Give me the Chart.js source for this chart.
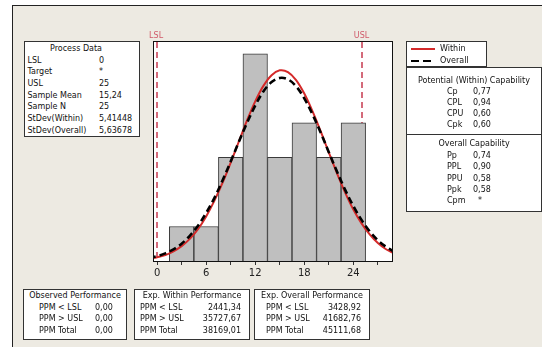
<!DOCTYPE html>
<html>
<head>
<meta charset="utf-8">
<script src="https://cdn.jsdelivr.net/npm/chart.js@4/dist/chart.umd.min.js"></script>
<style>
  html, body { margin:0; padding:0; background:#fff; }
  body { width:542px; height:347px; position:relative; overflow:hidden; font-family:"DejaVu Sans", sans-serif; font-size:8px; color:#111; }
  #frame { position:absolute; left:12px; top:5px; right:-2px; bottom:-2px; background:#EDEAE2; border-top:1px solid #222; border-left:1px solid #222; }
  #c { position:absolute; left:0; top:0; }
  .box { position:absolute; background:#fff; border:1px solid #333; box-sizing:border-box; }
  .t { position:absolute; line-height:10px; white-space:nowrap; }
  .ctr { transform:translateX(-50%); }
  .rgt { transform:translateX(-100%); }
  .hr { position:absolute; height:1px; background:#333; }
</style>
</head>
<body>
<div id="frame"></div>
<canvas id="c" width="542" height="347"></canvas>
<div id="overlay"></div>
<script>
// ---- data ----
const binCenters = [3, 6, 9, 12, 15, 18, 21, 24];
const binCounts  = [1, 1, 3, 6, 3, 4, 3, 4];
const curveX     = [-1, 0, 1, 2, 3, 4, 5, 6, 7, 8, 9, 10, 11, 12, 13, 14, 15, 16, 17, 18, 19, 20, 21, 22, 23, 24, 25, 26, 27, 28, 29];
const withinY    = [0.06, 0.11, 0.17, 0.28, 0.43, 0.64, 0.92, 1.29, 1.74, 2.26, 2.85, 3.46, 4.07, 4.62, 5.07, 5.38, 5.52, 5.47, 5.24, 4.85, 4.34, 3.76, 3.14, 2.54, 1.98, 1.49, 1.09, 0.77, 0.52, 0.34, 0.22];
const overallY   = [0.08, 0.14, 0.22, 0.34, 0.50, 0.73, 1.02, 1.39, 1.82, 2.33, 2.88, 3.45, 4.00, 4.50, 4.91, 5.18, 5.30, 5.26, 5.06, 4.71, 4.25, 3.72, 3.15, 2.59, 2.06, 1.59, 1.19, 0.86, 0.60, 0.41, 0.27];
const tickValues = [0, 3, 6, 9, 12, 15, 18, 21, 24, 27];
const tickLabels = ['0', '', '6', '', '12', '', '18', '', '24', ''];
const specLSL = 0;
const specUSL = 25;
const legendLabels = ['Within', 'Overall'];

const processLabels = ['LSL', 'Target', 'USL', 'Sample Mean', 'Sample N', 'StDev(Within)', 'StDev(Overall)'];
const processValues = ['0', '*', '25', '15,24', '25', '5,41448', '5,63678'];
const withinCapLabels = ['Cp', 'CPL', 'CPU', 'Cpk'];
const withinCapValues = ['0,77', '0,94', '0,60', '0,60'];
const overallCapLabels = ['Pp', 'PPL', 'PPU', 'Ppk', 'Cpm'];
const overallCapValues = ['0,74', '0,90', '0,58', '0,58', '*'];
const ppmLabels = ['PPM < LSL', 'PPM > USL', 'PPM Total'];
const observedPPM = ['0,00', '0,00', '0,00'];
const withinPPM = ['2441,34', '35727,67', '38169,01'];
const overallPPM = ['3428,92', '41682,76', '45111,68'];

// ---- HTML text panels ----
const ov = document.getElementById('overlay');
function box(l, t, w, h) { const d = document.createElement('div'); d.className = 'box'; Object.assign(d.style, {left:l+'px', top:t+'px', width:w+'px', height:h+'px'}); ov.appendChild(d); }
function txt(s, x, y, cls) { const d = document.createElement('div'); d.className = 't' + (cls ? ' ' + cls : ''); d.textContent = s; d.style.left = x + 'px'; d.style.top = (y - 5) + 'px'; ov.appendChild(d); return d; }
function hr(l, t, w) { const d = document.createElement('div'); d.className = 'hr'; Object.assign(d.style, {left:l+'px', top:t+'px', width:w+'px'}); ov.appendChild(d); }

// Process Data
box(24, 41, 116, 96);
txt('Process Data', 76, 49, 'ctr');
processLabels.forEach((s, i) => { const y = 60.7 + i * 11.67; txt(s, 27.5, y); txt(processValues[i], 99, y); });

// Legend
box(406, 41, 81, 26);
(function(){
  const l1 = document.createElement('div'); Object.assign(l1.style, {position:'absolute', left:'411px', top:'47.5px', width:'24px', height:'2px', background:'#D42A2A'}); ov.appendChild(l1);
  const l2 = document.createElement('div'); Object.assign(l2.style, {position:'absolute', left:'411px', top:'59.5px', width:'24px', height:'2.5px', background:'repeating-linear-gradient(to right,#000 0 8px,transparent 8px 12px)'}); ov.appendChild(l2);
})();
txt(legendLabels[0], 440, 48.5);
txt(legendLabels[1], 440, 60.5);

// Capability
box(406, 67, 136, 145);
txt('Potential (Within) Capability', 474, 81, 'ctr');
withinCapLabels.forEach((s, i) => { const y = 91.5 + i * 11.3; txt(s, 447, y); txt(withinCapValues[i], 473, y); });
hr(406, 134, 136);
txt('Overall Capability', 474, 144, 'ctr');
overallCapLabels.forEach((s, i) => { const y = 156 + i * 11.3; txt(s, 447, y); const v = overallCapValues[i]; txt(v, v === '*' ? 478 : 473, y); });

// Bottom performance boxes
box(23, 289, 104, 51);
txt('Observed Performance', 75, 296, 'ctr');
ppmLabels.forEach((s, i) => { const y = 307.5 + i * 11.5; txt(s, 39, y); txt(observedPPM[i], 95, y); });
box(134, 289, 116, 51);
txt('Exp. Within Performance', 192, 296, 'ctr');
ppmLabels.forEach((s, i) => { const y = 307.5 + i * 11.5; txt(s, 140, y); txt(withinPPM[i], 241, y, 'rgt'); });
box(254, 289, 116, 51);
txt('Exp. Overall Performance', 312, 296, 'ctr');
ppmLabels.forEach((s, i) => { const y = 307.5 + i * 11.5; txt(s, 266, y); txt(overallPPM[i], 361, y, 'rgt'); });

// ---- chart ----
const specPlugin = {
  id: 'spec',
  beforeDraw(chart) {
    const {ctx, chartArea:a} = chart;
    ctx.save(); ctx.fillStyle = '#fff'; ctx.fillRect(a.left, a.top, a.right - a.left, a.bottom - a.top); ctx.restore();
  },
  beforeDatasetsDraw(chart) {
    const {ctx, chartArea:a, scales:{x}} = chart;
    ctx.save();
    ctx.strokeStyle = '#D46A7A'; ctx.lineWidth = 2; ctx.setLineDash([6, 4]);
    [specLSL, specUSL].forEach(v => {
      const px = Math.round(x.getPixelForValue(v));
      ctx.beginPath(); ctx.moveTo(px, a.top + 1); ctx.lineTo(px, a.bottom - 3); ctx.stroke();
    });
    ctx.setLineDash([]);
    ctx.fillStyle = '#D05A6A'; ctx.font = '8px "DejaVu Sans"'; ctx.textAlign = 'center'; ctx.textBaseline = 'middle';
    ctx.fillText('LSL', x.getPixelForValue(specLSL) - 1, a.top - 5.5);
    ctx.fillText('USL', x.getPixelForValue(specUSL), a.top - 5.5);
    ctx.restore();
  },
  afterDraw(chart) {
    const {ctx, chartArea:a} = chart;
    ctx.save(); ctx.strokeStyle = '#111'; ctx.lineWidth = 1;
    ctx.strokeRect(Math.round(a.left) + 0.5, Math.round(a.top) + 0.5, Math.round(a.right - a.left) - 1, Math.round(a.bottom - a.top));
    ctx.restore();
  }
};

new Chart(document.getElementById('c'), {
  type: 'bar',
  data: {
    datasets: [
      { type: 'line', label: legendLabels[1], data: curveX.map((v, i) => ({x: v, y: overallY[i]})), borderColor: '#000', borderWidth: 2.6, borderDash: [7, 4], pointRadius: 0, tension: 0.35, fill: false, order: 1 },
      { type: 'line', label: legendLabels[0], data: curveX.map((v, i) => ({x: v, y: withinY[i]})), borderColor: '#D42A2A', borderWidth: 2, pointRadius: 0, tension: 0.35, fill: false, order: 2 },
      { type: 'bar', label: 'Count', data: binCenters.map((v, i) => ({x: v, y: binCounts[i]})), backgroundColor: '#BFBFBF', borderColor: '#3A3A3A', borderWidth: 1, barPercentage: 1, categoryPercentage: 1, order: 3 }
    ]
  },
  options: {
    responsive: false, animation: false, devicePixelRatio: 1,
    layout: { padding: { left: 153, right: 149, top: 41, bottom: 56 } },
    plugins: { legend: { display: false }, tooltip: { enabled: false } },
    scales: {
      x: {
        type: 'linear', min: -0.5, max: 28.85, offset: false,
        afterFit(s) { s.height = 30; },
        afterBuildTicks(s) { s.ticks = tickValues.map(v => ({value: v})); },
        ticks: { autoSkip: false, maxRotation: 0, color: '#222', font: { family: 'DejaVu Sans', size: 10 }, padding: 2, callback: (v) => tickLabels[tickValues.indexOf(v)] ?? '' },
        grid: { offset: false, drawOnChartArea: false, drawTicks: true, tickLength: 4, tickColor: '#333', tickWidth: 1 },
        border: { display: false }
      },
      y: { display: false, min: 0, max: 6.37 }
    }
  },
  plugins: [specPlugin]
});
</script>
</body>
</html>
